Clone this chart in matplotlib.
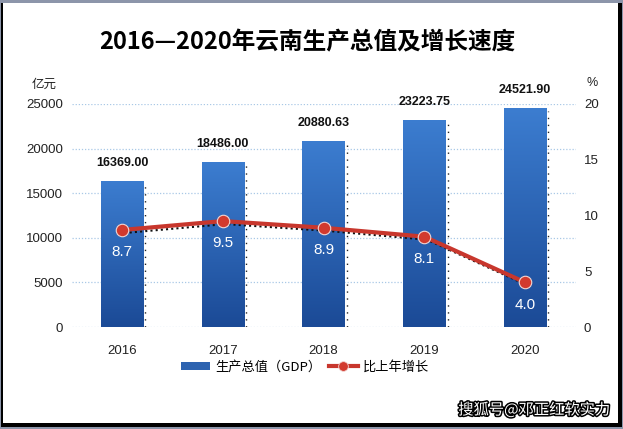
import numpy as np
import matplotlib
matplotlib.use('Agg')
import matplotlib.pyplot as plt
import matplotlib.transforms as mtransforms
import matplotlib.patheffects as pe
from matplotlib.patches import Rectangle
from matplotlib.lines import Line2D

plt.rcParams['font.family'] = ['Noto Sans CJK SC', 'DejaVu Sans']
NUM_FONT = ['Liberation Sans Narrow', 'Liberation Sans', 'DejaVu Sans']

# data
years = ['2016', '2017', '2018', '2019', '2020']
gdp = [16369.00, 18486.00, 20880.63, 23223.75, 24521.90]
growth = [8.7, 9.5, 8.9, 8.1, 4.0]
left_ticks = [0, 5000, 10000, 15000, 20000, 25000]
right_ticks = [0, 5, 10, 15, 20]

W, H = 623, 429
fig = plt.figure(figsize=(W / 100, H / 100), dpi=100, facecolor='#8c95aa')

# frame: black border with shadow on right/bottom, white inside
fig.patches.append(Rectangle((1 / W, 2 / H), 621 / W, 424 / H, transform=fig.transFigure,
                             facecolor='black', edgecolor='none', zorder=-2))
fig.patches.append(Rectangle((3 / W, 6 / H), 615 / W, 420 / H, transform=fig.transFigure,
                             facecolor='white', edgecolor='none', zorder=-1))

ax = fig.add_axes([71.6 / W, 1 - 327 / H, 504 / W, 223 / H])
ax.set_facecolor('none')
ax2 = ax.twinx()

x = np.arange(len(years))
bar_w = 0.42

for v in left_ticks:
    ax.axhline(v, color='#a9c8e6', lw=0.9, ls=(0, (1, 1.5)), zorder=0)

# bars with a vertical gradient
bars = ax.bar(x, gdp, width=bar_w, color='#2d63b0', zorder=2)
grad = np.linspace(0, 1, 256).reshape(-1, 1)
cmap = matplotlib.colors.LinearSegmentedColormap.from_list('b', ['#1b4a96', '#3c7dd0'])
for b in bars:
    x0, y0 = b.get_x(), b.get_y()
    im = ax.imshow(grad, extent=[x0, x0 + b.get_width(), y0, y0 + b.get_height()],
                   aspect='auto', cmap=cmap, origin='lower', zorder=2.1)
    im.set_clip_path(b)
    # dotted shadow on right side of bar
    ax.plot([x0 + b.get_width() + 0.02] * 2, [y0, y0 + b.get_height() - 300], color='#222222',
            lw=1, ls=(0, (1, 4)), zorder=1.5)
ax.set_xlim(-0.5, len(years) - 0.5)
ax.set_ylim(0, 25000)
ax2.set_ylim(0, 20)

for xi, v in zip(x, gdp):
    ax.annotate(f'{v:.2f}', (xi, v), xytext=(0, 13), textcoords='offset points',
                ha='center', va='center', fontsize=9, fontweight='bold',
                family=NUM_FONT, color='#111111', zorder=5)

# growth line with dotted shadow
shadow = mtransforms.offset_copy(ax2.transData, fig=fig, x=2.5, y=-3, units='dots')
ax2.plot(x, growth, color='#111111', lw=1.5, ls=(0, (1, 1.5)), transform=shadow, zorder=3)
ax2.plot(x, growth, color='#c8372d', lw=3, marker='o', markersize=9,
         markerfacecolor='#d23a2e', markeredgecolor='#f3d6d3', markeredgewidth=0.8, zorder=4)
for xi, v in zip(x, growth):
    ax2.annotate(f'{v:.1f}', (xi, v), xytext=(0, -16), textcoords='offset points',
                 ha='center', va='center', fontsize=11, family=NUM_FONT,
                 color='white', zorder=5)

for a in (ax, ax2):
    for s in a.spines.values():
        s.set_visible(False)
    a.tick_params(length=0)

ax.set_xticks(x)
ax.set_xticklabels(years, family=NUM_FONT, fontsize=9.5, color='#222222')
ax.tick_params(axis='x', pad=13)
ax.set_yticks(left_ticks)
ax.set_yticklabels([str(t) for t in left_ticks], family=NUM_FONT, fontsize=9.5, color='#222222')
ax.tick_params(axis='y', pad=6)
ax2.set_yticks(right_ticks)
ax2.set_yticklabels([str(t) for t in right_ticks], family=NUM_FONT, fontsize=9.5, color='#222222')
ax2.tick_params(axis='y', pad=6)

fig.text(32 / W, 1 - 84 / H, '亿元', fontsize=9, ha='left', va='center', color='#222222')
fig.text(592 / W, 1 - 83 / H, '%', fontsize=9, ha='center', va='center',
         family=NUM_FONT, color='#222222')

fig.text(307 / W, 1 - 42 / H, '2016—2020年云南生产总值及增长速度', fontsize=17,
         fontweight='bold', ha='center', va='center', color='black')

handles = [Rectangle((0, 0), 1, 1, facecolor='#2d63b0', edgecolor='none'),
           Line2D([], [], color='#c8372d', lw=3, marker='o', markersize=7,
                  markerfacecolor='#d23a2e', markeredgecolor='#f3d6d3', markeredgewidth=0.6)]
fig.legend(handles, ['生产总值（GDP）', '比上年增长'], loc='center',
           bbox_to_anchor=(305 / W, 1 - 367 / H), ncol=2, frameon=False, fontsize=9.5,
           handlelength=2.2, handleheight=0.6, columnspacing=0.6, handletextpad=0.4)

fig.text(610 / W, 1 - 410 / H, '搜狐号@邓正红软实力', fontsize=11, ha='right', va='center',
         color='white', path_effects=[pe.withStroke(linewidth=2.2, foreground='black')])

fig.savefig('out.png', dpi=100, facecolor=fig.get_facecolor())
